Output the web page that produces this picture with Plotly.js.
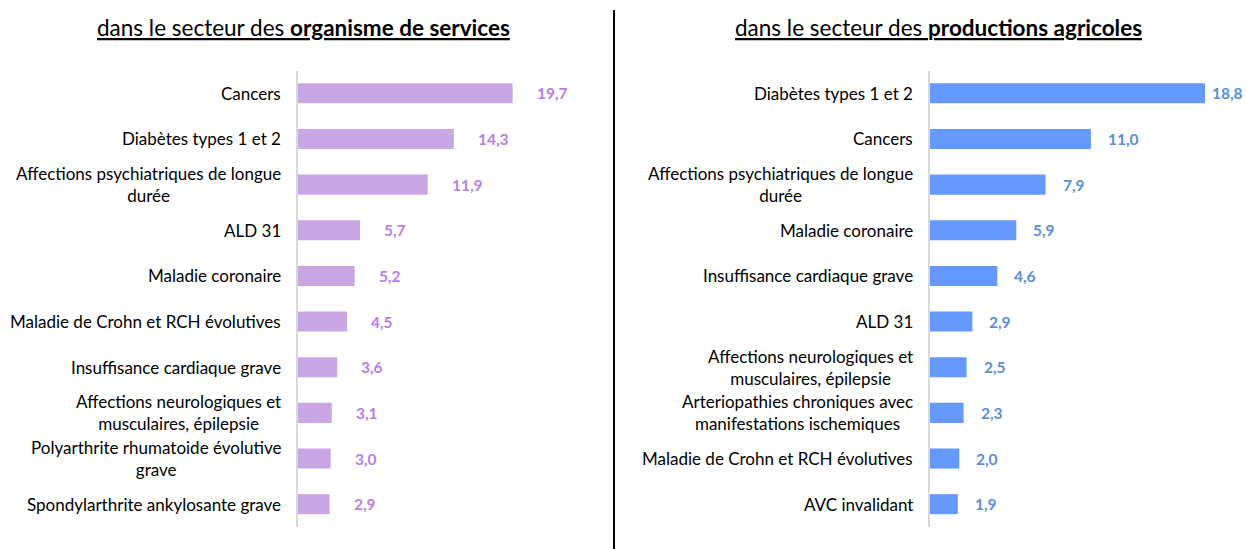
<!DOCTYPE html>
<html><head><meta charset="utf-8">
<script src="https://cdn.plot.ly/plotly-3.0.1.min.js"></script>
<style>html,body{margin:0;padding:0;background:#fff}#chart{width:1247px;height:549px}</style>
</head><body><div id="chart"></div>
<script>
var leftTitle = 'dans le secteur des <b>organisme de services</b>';
var rightTitle = 'dans le secteur des <b>productions agricoles</b>';

var leftCategories = ['Cancers', 'Diabètes types 1 et 2', 'Affections psychiatriques de longue<br>durée', 'ALD 31', 'Maladie coronaire', 'Maladie de Crohn et RCH évolutives', 'Insuffisance cardiaque grave', 'Affections neurologiques et<br>musculaires, épilepsie', 'Polyarthrite rhumatoide évolutive<br>grave', 'Spondylarthrite ankylosante grave'];
var leftValues = [19.7, 14.3, 11.9, 5.7, 5.2, 4.5, 3.6, 3.1, 3.0, 2.9];

var rightCategories = ['Diabètes types 1 et 2', 'Cancers', 'Affections psychiatriques de longue<br>durée', 'Maladie coronaire', 'Insuffisance cardiaque grave', 'ALD 31', 'Affections neurologiques et<br>musculaires, épilepsie', 'Arteriopathies chroniques avec<br>manifestations ischemiques', 'Maladie de Crohn et RCH évolutives', 'AVC invalidant'];
var rightValues = [18.8, 11.0, 7.9, 5.9, 4.6, 2.9, 2.5, 2.3, 2.0, 1.9];

function fmt(v){ return v.toFixed(1).replace('.', ','); }

var FONT = 'Lato, "Open Sans", sans-serif';

var traces = [
  {type:'bar', orientation:'h', x:leftValues, y:leftCategories, xaxis:'x', yaxis:'y',
   marker:{color:'#C9A7E4'}, hoverinfo:'x+y'},
  {type:'bar', orientation:'h', x:rightValues, y:rightCategories, xaxis:'x2', yaxis:'y2',
   marker:{color:'#6699FF'}, hoverinfo:'x+y'}
];

var annotations = [];
var rightMax = Math.max.apply(null, rightValues);
leftCategories.forEach(function(c,i){
  annotations.push({xref:'x domain', yref:'y', x:0, y:c, xanchor:'right', xshift:-15, text:c, showarrow:false, align:'center', font:{family:FONT, size:17, color:'#000'}});
  annotations.push({xref:'x', yref:'y', x:leftValues[i], y:c, xanchor:'left', xshift:22, text:'<b>'+fmt(leftValues[i])+'</b>', showarrow:false, font:{family:FONT, size:15.5, color:'#B77FE6'}});
});
rightCategories.forEach(function(c,i){
  annotations.push({xref:'x2 domain', yref:'y2', x:0, y:c, xanchor:'right', xshift:-15, text:c, showarrow:false, align:'center', font:{family:FONT, size:17, color:'#000'}});
  annotations.push({xref:'x2', yref:'y2', x:rightValues[i], y:c, xanchor:'left', xshift:(rightValues[i] === rightMax ? 5 : 15), text:'<b>'+fmt(rightValues[i])+'</b>', showarrow:false, font:{family:FONT, size:15.5, color:'#5B8ED8'}});
});
annotations.push({xref:'paper', yref:'paper', x:303/1247, y:1-28/549, xanchor:'center', yanchor:'middle', showarrow:false, text:'<u>'+leftTitle+'</u>', font:{family:FONT, size:22.5, color:'#000'}});
annotations.push({xref:'paper', yref:'paper', x:938/1247, y:1-28/549, xanchor:'center', yanchor:'middle', showarrow:false, text:'<u>'+rightTitle+'</u>', font:{family:FONT, size:22.5, color:'#000'}});

var yTop = 1 - 70.5/549, yBot = 1 - 527/549;
var layout = {
  width:1247, height:549, margin:{l:0,r:0,t:0,b:0},
  paper_bgcolor:'#fff', plot_bgcolor:'#fff', showlegend:false, bargap:0.56,
  xaxis:{domain:[298/1247, 590/1247], range:[0, 26.8], visible:false, fixedrange:true},
  yaxis:{domain:[yBot, yTop], autorange:'reversed', showticklabels:false, ticks:'', showgrid:false, zeroline:false,
         showline:true, linecolor:'#D9D9D9', linewidth:2, anchor:'x', type:'category'},
  xaxis2:{domain:[930/1247, 1], range:[0, 21.67], visible:false, fixedrange:true},
  yaxis2:{domain:[yBot, yTop], autorange:'reversed', showticklabels:false, ticks:'', showgrid:false, zeroline:false,
          showline:true, linecolor:'#D9D9D9', linewidth:2, anchor:'x2', type:'category'},
  annotations:annotations,
  shapes:[{type:'line', xref:'paper', yref:'paper', x0:614/1247, x1:614/1247, y0:0, y1:1-10/549, line:{color:'#000', width:2}}]
};
Plotly.newPlot('chart', traces, layout, {staticPlot:true});
</script></body></html>
